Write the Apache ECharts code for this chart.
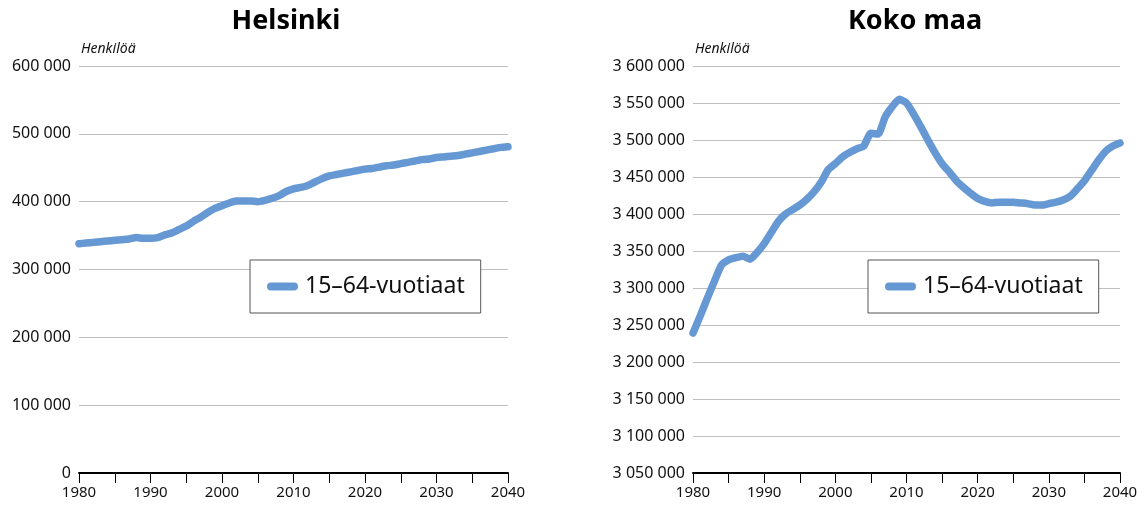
<!DOCTYPE html>
<html>
<head>
<meta charset="utf-8">
<script src="https://cdn.jsdelivr.net/npm/echarts@6/dist/echarts.min.js"></script>
<style>
html,body{margin:0;padding:0;background:#fff;}
#c{width:1146px;height:506px;}
</style>
</head>
<body>
<div id="c"></div>
<script>
var titles = ['Helsinki', 'Koko maa'];
var seriesName = '15–64-vuotiaat';
var unitLabel = 'Henkilöä';
var years = [];
for (var y = 1980; y <= 2040; y++) years.push(y);

var helsinki = [
 338000,339000,340000,341000,342000,343000,344000,345000,347000,346000,
 346000,347000,351000,354000,359000,364000,371000,377000,384000,390000,
 394000,398000,401000,401000,401000,400000,402000,405000,409000,415000,
 419000,421000,424000,429000,434000,438000,440000,442000,444000,446000,
 448000,449000,451000,453000,454000,456000,458000,460000,462000,463000,
 465000,466000,467000,468000,470000,472000,474000,476000,478000,480000,481000
];
var kokoMaa = [
 3239000,3262000,3286000,3309000,3331000,3338000,3341000,3343000,3339000,3348000,
 3360000,3375000,3390000,3400000,3406000,3412000,3420000,3430000,3443000,3460000,
 3468000,3477000,3483000,3488000,3492000,3509000,3508000,3531000,3545000,3555000,
 3550000,3535000,3518000,3500000,3483000,3468000,3457000,3445000,3436000,3428000,
 3421000,3417000,3415000,3416000,3416000,3416000,3415000,3414000,3412000,3412000,
 3414000,3416000,3419000,3424000,3434000,3445000,3459000,3473000,3485000,3492000,3496000
];
var helsinkiAxis = {min: 0, max: 600000, interval: 100000};
var kokoAxis = {min: 3050000, max: 3600000, interval: 50000};

function pairs(xs, vs){ return xs.map(function(x,i){ return [x, vs[i]]; }); }
function fmt(v){ return String(v).replace(/\B(?=(\d{3})+(?!\d))/g, ' '); }

var FONT = 'Noto Sans';
var LINE = '#6699D3';

function xAxis(idx){
  return {
    type: 'value', gridIndex: idx, min: 1980, max: 2040, interval: 5,
    axisLine: {show: true, onZero: false, lineStyle: {color: '#000', width: 2}},
    axisTick: {show: true, length: 10, lineStyle: {color: '#000', width: 1}},
    axisLabel: {color: '#111', fontFamily: FONT, fontSize: 15, margin: 12,
      formatter: function(v){ return v % 10 === 0 ? String(v) : ''; }},
    splitLine: {show: false}
  };
}
function yAxis(idx, a){
  return {
    type: 'value', gridIndex: idx, min: a.min, max: a.max, interval: a.interval,
    name: unitLabel, nameLocation: 'end', nameGap: 10,
    nameTextStyle: {fontFamily: FONT, fontStyle: 'italic', fontSize: 14, color: '#111', align: 'left', padding: [0,0,0,2]},
    axisLine: {show: false}, axisTick: {show: false},
    axisLabel: {color: '#111', fontFamily: FONT, fontSize: 16, margin: 8, formatter: fmt},
    splitLine: {show: true, lineStyle: {color: '#BFBFBF', width: 1}}
  };
}
function legend(left){
  return {
    left: left, top: 260, orient: 'horizontal',
    data: [seriesName],
    backgroundColor: '#fff', borderColor: '#555', borderWidth: 1, borderRadius: 0,
    padding: [15, 16, 15, 17],
    itemWidth: 31, itemHeight: 8, itemGap: 10,
    icon: 'path://M4,0 L27,0 A4,4 0 0 1 27,8 L4,8 A4,4 0 0 1 4,0 Z',
    textStyle: {fontFamily: FONT, fontSize: 23, color: '#111', padding: [0,0,0,2]},
    selectedMode: false
  };
}
function series(idx, vs){
  return {
    name: seriesName, type: 'line', xAxisIndex: idx, yAxisIndex: idx,
    data: pairs(years, vs), showSymbol: false, symbol: 'none', smooth: 0.2,
    lineStyle: {color: LINE, width: 7.5, cap: 'round', join: 'round'},
    itemStyle: {color: LINE}, animation: false
  };
}

var chart = echarts.init(document.getElementById('c'), null, {renderer: 'canvas'});
chart.setOption({
  backgroundColor: '#fff',
  animation: false,
  title: [
    {text: titles[0], left: 281, top: 3, textAlign: 'center',
     textStyle: {fontFamily: FONT, fontWeight: 'bold', fontSize: 27, color: '#000'}},
    {text: titles[1], left: 910, top: 3, textAlign: 'center',
     textStyle: {fontFamily: FONT, fontWeight: 'bold', fontSize: 27, color: '#000'}}
  ],
  grid: [
    {left: 79, right: 638, top: 66, bottom: 33, containLabel: false},
    {left: 693, right: 26, top: 66, bottom: 33, containLabel: false}
  ],
  xAxis: [xAxis(0), xAxis(1)],
  yAxis: [yAxis(0, helsinkiAxis), yAxis(1, kokoAxis)],
  legend: [legend(250), legend(868)],
  series: [series(0, helsinki), series(1, kokoMaa)]
});
</script>
</body>
</html>
